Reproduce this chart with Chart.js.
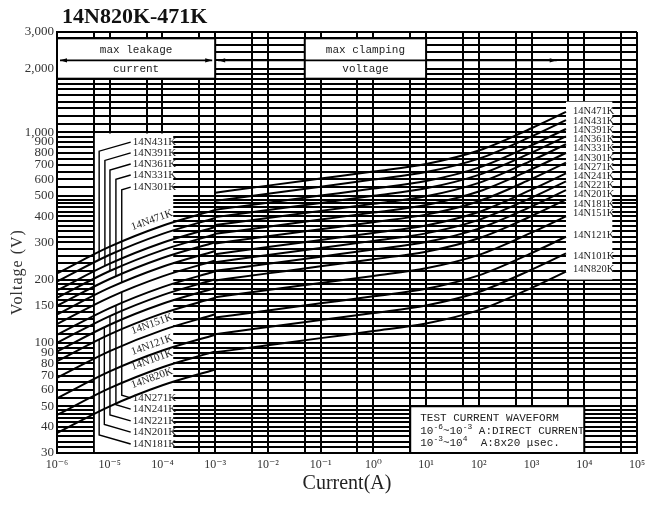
<!DOCTYPE html>
<html><head><meta charset="utf-8">
<script src="https://cdn.jsdelivr.net/npm/chart.js@4.4.1/dist/chart.umd.min.js"></script>
<style>html,body{margin:0;padding:0;background:#fff;}canvas{display:block;}</style>
</head><body>
<canvas id="c" width="659" height="506"></canvas>
<script>
// ---------- data ----------
const seriesNames = ['14N820K','14N101K','14N121K','14N151K','14N181K','14N201K','14N221K','14N241K','14N271K','14N301K','14N331K','14N361K','14N391K','14N431K','14N471K'];
const leakageCurrents = [1e-6, 1e-5, 1e-4, 1e-3];
const clampCurrents = [1e-3, 1e-2, 1e-1, 1, 10, 100, 1000, 4500];

const leak_14N820K = [37.3, 50.0, 62.9, 74.8];
const leak_14N101K = [45.5, 61.0, 76.7, 91.2];
const leak_14N121K = [54.6, 73.2, 92.0, 109.4];
const leak_14N151K = [68.3, 91.5, 115.1, 136.8];
const leak_14N181K = [81.9, 109.8, 138.1, 164.2];
const leak_14N201K = [91.0, 122.0, 153.4, 182.4];
const leak_14N221K = [100.1, 134.2, 168.7, 200.6];
const leak_14N241K = [109.2, 146.4, 184.1, 218.9];
const leak_14N271K = [122.9, 164.7, 207.1, 246.2];
const leak_14N301K = [136.5, 183.0, 230.1, 273.6];
const leak_14N331K = [150.2, 201.3, 253.1, 301.0];
const leak_14N361K = [163.8, 219.6, 276.1, 328.3];
const leak_14N391K = [177.5, 237.9, 299.1, 355.7];
const leak_14N431K = [195.7, 262.3, 329.8, 392.2];
const leak_14N471K = [213.9, 286.7, 360.5, 428.6];

const clamp_14N820K = [90.2, 97.5, 105.4, 113.8, 123.6, 143.1, 182.7, 218.3];
const clamp_14N101K = [110, 118.9, 128.5, 138.8, 150.7, 174.6, 222.8, 266.2];
const clamp_14N121K = [132, 142.7, 154.2, 166.6, 180.8, 209.5, 267.3, 319.4];
const clamp_14N151K = [165, 178.4, 192.7, 208.2, 226.1, 261.9, 334.1, 399.3];
const clamp_14N181K = [198, 214, 231.3, 249.9, 271.3, 314.2, 401, 479.2];
const clamp_14N201K = [220, 237.8, 257, 277.6, 301.4, 349.1, 445.5, 532.4];
const clamp_14N221K = [242, 261.6, 282.7, 305.4, 331.5, 384.1, 490.1, 585.6];
const clamp_14N241K = [264, 285.4, 308.4, 333.2, 361.7, 419, 534.6, 638.9];
const clamp_14N271K = [297, 321.1, 346.9, 374.8, 406.9, 471.3, 601.4, 718.7];
const clamp_14N301K = [330, 356.7, 385.4, 416.5, 452.1, 523.7, 668.3, 798.6];
const clamp_14N331K = [363, 392.4, 424, 458.1, 497.3, 576.1, 735.1, 878.5];
const clamp_14N361K = [396, 428.1, 462.5, 499.8, 542.5, 628.5, 801.9, 958.3];
const clamp_14N391K = [429, 463.7, 501.1, 541.4, 587.7, 680.8, 868.7, 1038];
const clamp_14N431K = [473, 511.3, 552.5, 596.9, 648, 750.7, 957.8, 1145];
const clamp_14N471K = [517, 558.9, 603.9, 652.5, 708.3, 820.5, 1047, 1251];

const yGridValues = [30,32,34,36,38,40,42,44,46,48,50,55,60,65,70,75,80,85,90,95,100,
  110,120,130,140,150,160,170,180,190,200,220,240,260,280,300,320,340,360,380,400,420,440,460,480,500,
  550,600,650,700,750,800,850,900,950,1000,1100,1200,1300,1400,1500,1600,1700,1800,1900,2000,2200,2400,2600,2800,3000];
const yLabelValues = [30,40,50,60,70,80,90,100,150,200,300,400,500,600,700,800,900,1000,2000,3000];
const yLabelTexts = ['30','40','50','60','70','80','90','100','150','200','300','400','500','600','700','800','900','1,000','2,000','3,000'];
const xGridValues = [1e-6,5e-6,1e-5,5e-5,1e-4,5e-4,1e-3,5e-3,1e-2,5e-2,1e-1,5e-1,1,5,10,50,100,500,1000,5000,1e4,5e4,1e5];
const xLabelValues = [1e-6,1e-5,1e-4,1e-3,1e-2,1e-1,1,10,100,1000,1e4,1e5];
const xLabelTexts = ['10⁻⁶','10⁻⁵','10⁻⁴','10⁻³','10⁻²','10⁻¹','10⁰','10¹','10²','10³','10⁴','10⁵'];

// right-hand label column (text, voltage where label sits)
const rightLabelNames = ['14N471K','14N431K','14N391K','14N361K','14N331K','14N301K','14N271K','14N241K','14N221K','14N201K','14N181K','14N151K','14N121K','14N101K','14N820K'];
const rightLabelVolts = [1254,1134,1025,927,838,758,685,620,560,507,458,414,326,258,224];
// left-box labels with leaders
const topLeaderNames = ['14N431K','14N391K','14N361K','14N331K','14N301K'];
const topLeaderVolts = [900,799,708,628,550];
const topLeaderCurrents = [6.3e-6,8.1e-6,1.01e-5,1.31e-5,1.69e-5];
const botLeaderNames = ['14N271K','14N241K','14N221K','14N201K','14N181K'];
const botLeaderVolts = [54.8,48.5,42.6,37.7,33.1];
const botLeaderCurrents = [1.69e-5,1.31e-5,1.01e-5,7.9e-6,6.3e-6];
const slantNames = ['14N471K','14N151K','14N121K','14N101K','14N820K'];
const slantVolts = [383,123,97.8,83,68];

// ---------- build ----------
const leakSeries = [leak_14N820K,leak_14N101K,leak_14N121K,leak_14N151K,leak_14N181K,leak_14N201K,leak_14N221K,leak_14N241K,leak_14N271K,leak_14N301K,leak_14N331K,leak_14N361K,leak_14N391K,leak_14N431K,leak_14N471K];
const clampSeries = [clamp_14N820K,clamp_14N101K,clamp_14N121K,clamp_14N151K,clamp_14N181K,clamp_14N201K,clamp_14N221K,clamp_14N241K,clamp_14N271K,clamp_14N301K,clamp_14N331K,clamp_14N361K,clamp_14N391K,clamp_14N431K,clamp_14N471K];
const lineStyle = {showLine: true, borderColor: '#000', backgroundColor: '#000', borderWidth: 2, pointRadius: 0, cubicInterpolationMode: 'monotone', fill: false};
const datasets = [];
seriesNames.forEach((n, i) => {
  datasets.push(Object.assign({label: n + ' leakage', data: leakageCurrents.map((c, j) => ({x: c, y: leakSeries[i][j]}))}, lineStyle));
  datasets.push(Object.assign({label: n + ' clamping', data: clampCurrents.map((c, j) => ({x: c, y: clampSeries[i][j]}))}, lineStyle));
});

const SERIF = '"Liberation Serif", "DejaVu Serif", serif';
const MONO = '"Liberation Mono", "DejaVu Sans Mono", monospace';

function arrowHead(ctx, x, y, dir) {
  ctx.beginPath();
  ctx.moveTo(x, y);
  ctx.lineTo(x - dir * 7, y - 2.2);
  ctx.lineTo(x - dir * 7, y + 2.2);
  ctx.closePath();
  ctx.fill();
}
// draw text runs: [text, isSuperscript]
function drawRuns(ctx, runs, x, y, size) {
  runs.forEach(([t, sup]) => {
    ctx.font = (sup ? size * 0.72 : size) + 'px ' + MONO;
    const yy = sup ? y - size * 0.38 : y;
    ctx.fillText(t, x, yy);
    x += ctx.measureText(t).width;
  });
}

const decor = {
  id: 'decor',
  beforeDatasetsDraw(chart) {
    const {ctx, scales: {x, y}} = chart;
    const X = v => x.getPixelForValue(v), Y = v => y.getPixelForValue(v);
    ctx.save();
    ctx.fillStyle = '#fff';
    ctx.fillRect(X(5e-6) + 1, Y(1000) + 1, X(1.6e-4) - X(5e-6) - 1, Y(30) - Y(1000) - 2);
    ctx.fillRect(X(4500), Y(1400), X(3.4e4) - X(4500), Y(200) - Y(1400));
    const hb = [[1e-6, 1e-3], [5e-2, 10]];
    hb.forEach(([a, b]) => {
      ctx.fillStyle = '#fff';
      ctx.fillRect(X(a), Y(2800), X(b) - X(a), Y(1800) - Y(2800));
      ctx.strokeStyle = '#000'; ctx.lineWidth = 2;
      ctx.strokeRect(X(a), Y(2800), X(b) - X(a), Y(1800) - Y(2800));
    });
    ctx.fillStyle = '#fff';
    ctx.fillRect(X(5), Y(50), X(1e4) - X(5), Y(30) - Y(50) - 1);
    ctx.strokeStyle = '#000'; ctx.lineWidth = 2;
    ctx.beginPath();
    ctx.moveTo(X(5), Y(30)); ctx.lineTo(X(5), Y(50)); ctx.lineTo(X(1e4), Y(50)); ctx.lineTo(X(1e4), Y(30));
    ctx.stroke();
    const ay = Y(2200);
    ctx.fillStyle = '#000'; ctx.lineWidth = 1.6;
    ctx.beginPath(); ctx.moveTo(X(1e-6) + 3, ay); ctx.lineTo(X(1e-3) - 3, ay); ctx.stroke();
    arrowHead(ctx, X(1e-6) + 3, ay, -1); arrowHead(ctx, X(1e-3) - 3, ay, 1);
    ctx.beginPath(); ctx.moveTo(X(1e-3) + 3, ay); ctx.lineTo(X(3000), ay); ctx.stroke();
    arrowHead(ctx, X(1e-3) + 3, ay, -1); arrowHead(ctx, X(3000), ay, 1);
    ctx.restore();
  },
  afterDatasetsDraw(chart) {
    const {ctx, scales: {x, y}} = chart;
    const X = v => x.getPixelForValue(v), Y = v => y.getPixelForValue(v);
    const curveY = (name, cur) => {
      const idx = seriesNames.indexOf(name) * 2;
      const el = chart.getDatasetMeta(idx).dataset;
      const p = el.interpolate({x: X(cur)}, 'x');
      return p ? p.y : Y(100);
    };
    ctx.save();
    ctx.fillStyle = '#222';
    ctx.strokeStyle = '#000';
    ctx.lineWidth = 1.4;
    ctx.font = '11px ' + SERIF;
    ctx.textBaseline = 'middle';
    ctx.textAlign = 'left';
    const lx = X(2.61e-5);
    topLeaderNames.forEach((n, i) => {
      const ly = Y(topLeaderVolts[i]);
      const vx = X(topLeaderCurrents[i]);
      const drop = (lx - vx) * 0.28;
      ctx.fillText(n, lx + 1, ly);
      ctx.beginPath();
      ctx.moveTo(lx - 1, ly); ctx.lineTo(vx, ly + drop); ctx.lineTo(vx, curveY(n, topLeaderCurrents[i]));
      ctx.stroke();
    });
    botLeaderNames.forEach((n, i) => {
      const ly = Y(botLeaderVolts[i]);
      const vx = X(botLeaderCurrents[i]);
      const drop = (lx - vx) * 0.28;
      ctx.fillText(n, lx + 1, ly);
      ctx.beginPath();
      ctx.moveTo(lx - 1, ly); ctx.lineTo(vx, ly - drop); ctx.lineTo(vx, curveY(n, botLeaderCurrents[i]));
      ctx.stroke();
    });
    ctx.textAlign = 'center';
    slantNames.forEach((n, i) => {
      ctx.save();
      ctx.translate(X(6.34e-5), Y(slantVolts[i]));
      ctx.rotate(-20 * Math.PI / 180);
      ctx.fillText(n, 0, 0);
      ctx.restore();
    });
    ctx.textAlign = 'left';
    ctx.font = '10.5px ' + SERIF;
    rightLabelNames.forEach((n, i) => ctx.fillText(n, X(6110), Y(rightLabelVolts[i])));
    ctx.font = '11px ' + MONO;
    ctx.textAlign = 'center';
    ctx.fillStyle = '#222';
    const lc = (X(1e-6) + X(1e-3)) / 2, cc = (X(5e-2) + X(10)) / 2;
    const t1 = (Y(2800) + Y(2200)) / 2 + 1, t2 = (Y(2200) + Y(1800)) / 2;
    ctx.fillText('max leakage', lc, t1); ctx.fillText('current', lc, t2);
    ctx.fillText('max clamping', cc, t1); ctx.fillText('voltage', cc, t2);
    ctx.textAlign = 'left';
    const tx = X(5) + 10, ty0 = Y(50);
    drawRuns(ctx, [['TEST CURRENT WAVEFORM', false]], tx, ty0 + 12, 11);
    drawRuns(ctx, [['10', false], ['-6', true], ['~10', false], ['-3', true], [' A:DIRECT CURRENT', false]], tx, ty0 + 25, 11);
    drawRuns(ctx, [['10', false], ['-3', true], ['~10', false], ['4', true], ['  A:8x20 μsec.', false]], tx, ty0 + 37, 11);
    ctx.restore();
  },
  afterDraw(chart) {
    const {ctx} = chart;
    ctx.save();
    ctx.fillStyle = '#111';
    ctx.font = 'bold 22px ' + SERIF;
    ctx.textAlign = 'left'; ctx.textBaseline = 'alphabetic';
    ctx.fillText('14N820K-471K', 62, 23);
    ctx.translate(18, 272);
    ctx.rotate(-Math.PI / 2);
    ctx.font = '16px ' + SERIF;
    ctx.fillStyle = '#333';
    ctx.textAlign = 'center'; ctx.textBaseline = 'middle';
    try { ctx.letterSpacing = '1px'; } catch (e) {}
    ctx.fillText('Voltage (V)', 0, 0);
    ctx.restore();
  }
};

new Chart(document.getElementById('c'), {
  type: 'scatter',
  data: {datasets},
  options: {
    responsive: false,
    animation: false,
    devicePixelRatio: 1,
    layout: {padding: {top: 32, right: 22, left: 0, bottom: 0}},
    plugins: {legend: {display: false}, tooltip: {enabled: false}, colors: {enabled: false}},
    scales: {
      x: {
        type: 'logarithmic', min: 1e-6, max: 1e5,
        afterBuildTicks: s => { s.ticks = xGridValues.map(v => ({value: v})); },
        afterFit: s => { s.height = 53; },
        ticks: {autoSkip: false, maxRotation: 0, padding: 5, color: '#333', font: {family: SERIF, size: 12},
          callback: v => { const k = xLabelValues.indexOf(v); return k >= 0 ? xLabelTexts[k] : ''; }},
        grid: {color: '#000', lineWidth: 2, drawTicks: false},
        border: {display: true, color: '#000', width: 2},
        title: {display: true, text: 'Current(A)', color: '#222', font: {family: SERIF, size: 20}, padding: {top: 0, bottom: 10}}
      },
      y: {
        type: 'logarithmic', min: 30, max: 3000,
        afterBuildTicks: s => { s.ticks = yGridValues.map(v => ({value: v})); },
        afterFit: s => { s.width = 57; },
        ticks: {autoSkip: false, padding: 3, color: '#333', font: {family: SERIF, size: 13},
          callback: v => { const k = yLabelValues.indexOf(v); return k >= 0 ? yLabelTexts[k] : ''; }},
        grid: {color: '#000', lineWidth: 2, drawTicks: false},
        border: {display: true, color: '#000', width: 2}
      }
    }
  },
  plugins: [decor]
});
</script>
</body></html>
